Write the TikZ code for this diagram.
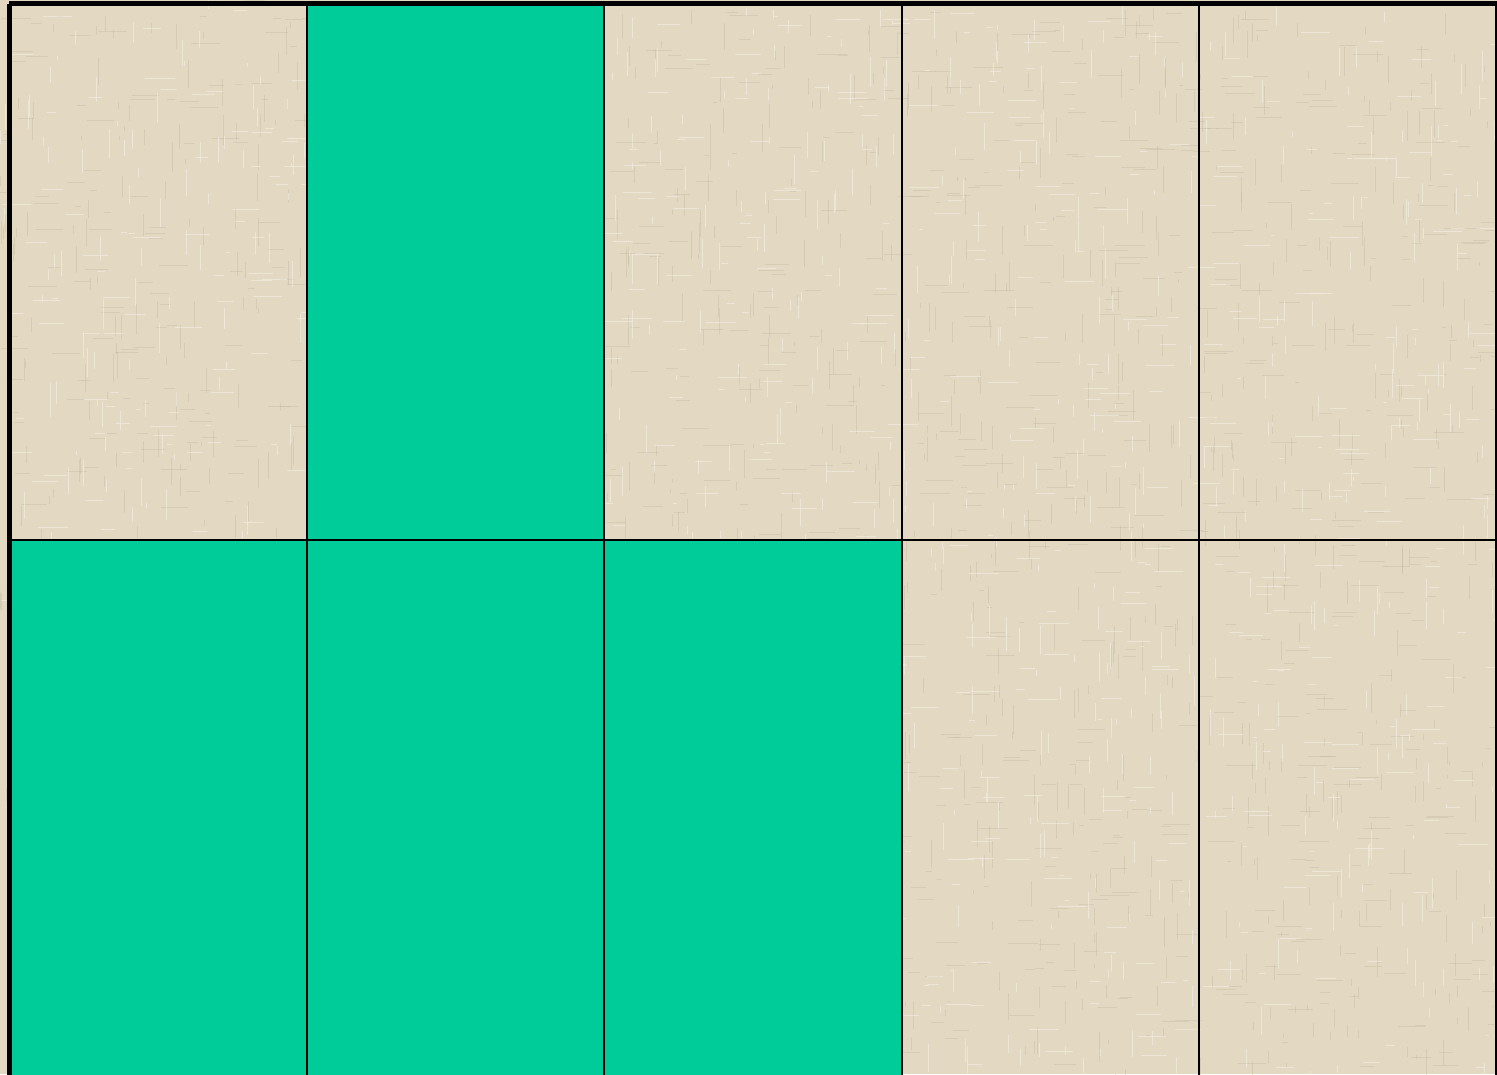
\documentclass[tikz,border=0pt]{standalone}
\usetikzlibrary{positioning}
\definecolor{linen}{RGB}{227,217,195}
\definecolor{linendark}{RGB}{190,178,154}
\definecolor{linenlight}{RGB}{244,238,225}
\definecolor{teal}{RGB}{0,204,153}
\tikzset{
  cellbox/.style={draw=black,line width=2pt,fill=teal,inner sep=0pt,minimum width=297.2pt,minimum height=#1},
  cellbox/.default=535pt,
  emptycell/.style={draw=black,line width=2pt,inner sep=0pt,minimum width=297.2pt,minimum height=#1},
  emptycell/.default=535pt,
}
\begin{document}
\begin{tikzpicture}[x=1pt,y=-1pt]
\useasboundingbox (0,0) rectangle (1497,1074);
\fill[linen] (0,0) rectangle (1497,1074);
% woven texture
\pgfmathsetseed{7}
\begin{scope}
\clip (0,0) rectangle (1497,1074);
\foreach \i in {1,...,1100}{
  \pgfmathsetmacro{\px}{random(0,1497)}
  \pgfmathsetmacro{\py}{random(0,1074)}
  \pgfmathsetmacro{\pl}{random(4,30)}
  \draw[linendark,opacity=0.35,line width=0.9pt] (\px,\py) -- ++(\pl,0);
}
\foreach \i in {1,...,1100}{
  \pgfmathsetmacro{\px}{random(0,1497)}
  \pgfmathsetmacro{\py}{random(0,1074)}
  \pgfmathsetmacro{\pl}{random(4,30)}
  \draw[linendark,opacity=0.35,line width=0.9pt] (\px,\py) -- ++(0,\pl);
}
\foreach \i in {1,...,800}{
  \pgfmathsetmacro{\px}{random(0,1497)}
  \pgfmathsetmacro{\py}{random(0,1074)}
  \pgfmathsetmacro{\pl}{random(4,30)}
  \draw[linenlight,opacity=0.6,line width=1pt] (\px,\py) -- ++(\pl,0);
}
\foreach \i in {1,...,800}{
  \pgfmathsetmacro{\px}{random(0,1497)}
  \pgfmathsetmacro{\py}{random(0,1074)}
  \pgfmathsetmacro{\pl}{random(4,30)}
  \draw[linenlight,opacity=0.6,line width=1pt] (\px,\py) -- ++(0,\pl);
}
\end{scope}
% top row (y 4..540)
\node[emptycell] (r1c1) at (158.6,272) {};
\node[cellbox]   (r1c2) at (455.8,272) {};
\node[emptycell] (r1c3) at (753.0,272) {};
\node[emptycell] (r1c4) at (1050.2,272) {};
\node[emptycell] (r1c5) at (1347.4,272) {};
% bottom row (y 540..beyond bottom edge)
\node[cellbox,minimum height=540pt]   (r2c1) at (158.6,810) {};
\node[cellbox,minimum height=540pt]   (r2c2) at (455.8,810) {};
\node[cellbox,minimum height=540pt]   (r2c3) at (753.0,810) {};
\node[emptycell,minimum height=540pt] (r2c4) at (1050.2,810) {};
\node[emptycell,minimum height=540pt] (r2c5) at (1347.4,810) {};
% heavy outer edges
\draw[line width=5pt] (r1c1.north west) -- (r2c1.south west);
\draw[line width=4.5pt] (r1c1.north west) -- (r1c5.north east);
\end{tikzpicture}
\end{document}
